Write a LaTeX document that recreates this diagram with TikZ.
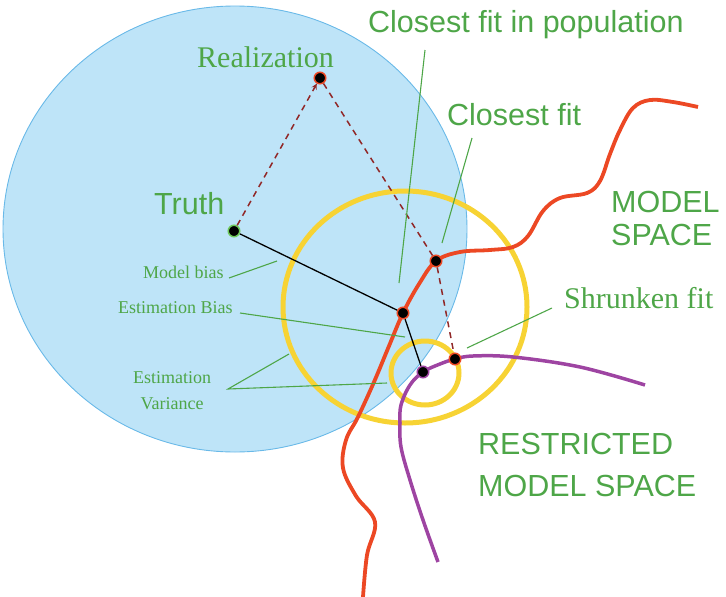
\documentclass[tikz,border=0pt]{standalone}
\usepackage{fontspec}
\setmainfont{Liberation Serif}
\setsansfont{Liberation Sans}
\usepackage{tikz}
\usetikzlibrary{arrows}
\usepackage{xcolor}
\definecolor{labgreen}{RGB}{78,166,72}
\definecolor{popblue}{RGB}{190,228,248}
\definecolor{popedge}{RGB}{105,185,232}
\definecolor{fityellow}{RGB}{247,211,52}
\definecolor{modred}{RGB}{236,72,36}
\definecolor{resviolet}{RGB}{158,68,162}
\definecolor{dashred}{RGB}{145,40,40}
\definecolor{ringgreen}{RGB}{110,200,90}
\tikzstyle{fitdot} = [circle, fill=black, draw=modred, line width=1.5pt, minimum size=11.5pt, inner sep=0pt]
\tikzstyle{pointer} = [labgreen, line width=1.1pt]
\tikzstyle{bigsans} = [font=\sffamily\fontsize{30.5}{33}\selectfont, text=labgreen, inner sep=0pt]
\tikzstyle{bigserif} = [font=\fontsize{30}{33}\selectfont, text=labgreen, inner sep=0pt]
\tikzstyle{smallserif} = [font=\fontsize{18}{26}\selectfont, text=labgreen, inner sep=0pt]
\tikzstyle{realline} = [dashred, line width=1.5pt, dash pattern=on 6pt off 5pt]
\tikzstyle{fitline} = [black, line width=1.3pt]

\begin{document}
\begin{tikzpicture}[x=1pt, y=-1pt]
\useasboundingbox (0,0) rectangle (726,597);

% Population ball
\draw[popedge, fill=popblue, line width=0.9pt] (235,229) ellipse [x radius=232, y radius=223];

% Variance rings
\draw[fityellow, line width=5pt] (405,307) ellipse [x radius=122, y radius=116];
\draw[fityellow, line width=5pt] (425,373) ellipse [x radius=34, y radius=32];

% Model space
\draw[modred, line width=3.8pt] plot[smooth, tension=0.6] coordinates {
    (363,597) (367,555) (375,522) (356,496) (343,468) (346,440) (358,417)
    (374,382) (389,346) (403,313) (419,284) (436,261) (460,252) (490,250)
    (513,247) (528,236) (543,211) (560,198) (587,193) (600,181) (610,154)
    (620,130) (633,108) (650,100) (673,102) (698,107)};

% Restricted model space
\draw[resviolet, line width=3.5pt] plot[smooth, tension=0.6] coordinates {
    (438,562) (423,520) (410,480) (401,447) (400,423) (401,405) (410,385)
    (423,372) (440,364) (455,359) (473,356) (513,357) (580,367) (645,385)};

% Fits
\node[fitdot, draw=ringgreen] (truth) at (234,231) {};
\node[fitdot] (real) at (320,78) {};
\node[fitdot] (closest) at (436,261) {};
\node[fitdot] (popfit) at (403,313) {};
\node[fitdot] (shrunk) at (455,359) {};
\node[fitdot, draw=resviolet] (proj) at (423,372) {};

% Connectors
\draw[realline, ->, >=stealth] (truth) -- (real);
\draw[realline] (real) -- (closest);
\draw[realline] (closest) -- (shrunk);
\draw[fitline] (truth) -- (popfit);
\draw[fitline] (popfit) -- (proj);

% Pointer ends
\coordinate (popA) at (425,50);
\coordinate (popB) at (399,283);
\coordinate (closeA) at (472,138);
\coordinate (closeB) at (442,243);
\coordinate (mbiasA) at (229,278);
\coordinate (mbiasB) at (277,261);
\coordinate (ebiasA) at (240,313);
\coordinate (ebiasB) at (405,337);
\coordinate (evarA) at (228,389);
\coordinate (evarB) at (289,354);
\coordinate (evarC) at (387,383);
\coordinate (shrunkA) at (552,308);
\coordinate (shrunkB) at (467,348);

% Pointers
\draw[pointer] (popA) -- (popB);
\draw[pointer] (closeA) -- (closeB);
\draw[pointer] (mbiasA) -- (mbiasB);
\draw[pointer] (ebiasA) -- (ebiasB);
\draw[pointer] (evarB) -- (evarA) -- (evarC);
\draw[pointer] (shrunkA) -- (shrunkB);

% Labels
\node[bigsans, anchor=base west] (lblpop) at (368,32) {Closest fit in population};
\node[bigsans, anchor=base west] (lblclose) at (447,125) {Closest fit};
\node[bigserif, anchor=base west] (lblreal) at (197,67) {Realization};
\node[bigsans, anchor=base west] (lbltruth) at (154,214) {Truth};
\node[bigsans, anchor=north west, align=left] (lblmodel) at (611,191.5) {MODEL\\SPACE};
\node[bigserif, anchor=base west] (lblshrunk) at (564,308) {Shrunken fit};
\node[bigsans, anchor=north west, align=left, font=\sffamily\fontsize{30.5}{42}\selectfont] (lblrestr) at (478,432.5) {RESTRICTED\\MODEL SPACE};
\node[smallserif, anchor=base west] (lblmbias) at (143,278) {Model bias};
\node[smallserif, anchor=base west] (lblebias) at (118,313) {Estimation Bias};
\node[smallserif, align=center] (lblevar) at (172,391) {Estimation\\Variance};
\end{tikzpicture}
\end{document}
